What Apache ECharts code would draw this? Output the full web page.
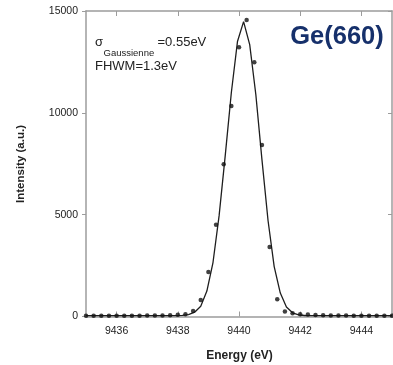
<!DOCTYPE html>
<html>
<head>
<meta charset="utf-8">
<script src="https://cdn.jsdelivr.net/npm/echarts@6/dist/echarts.min.js"></script>
<style>
  html, body { margin: 0; padding: 0; background: #ffffff; }
  #chart { width: 393px; height: 365px; }
</style>
</head>
<body>
<div id="chart"></div>
<script>
// Measured spectrum (points) around the Ge(660) reflection
const measuredEnergy = [
  9435.00, 9435.25, 9435.50, 9435.75, 9436.00, 9436.25, 9436.50, 9436.75,
  9437.00, 9437.25, 9437.50, 9437.75, 9438.00, 9438.25, 9438.50, 9438.75,
  9439.00, 9439.25, 9439.50, 9439.75, 9440.00, 9440.25, 9440.50, 9440.75,
  9441.00, 9441.25, 9441.50, 9441.75, 9442.00, 9442.25, 9442.50, 9442.75,
  9443.00, 9443.25, 9443.50, 9443.75, 9444.00, 9444.25, 9444.50, 9444.75,
  9445.00
];
const measuredIntensity = [
  40, 40, 40, 40, 40, 40, 40, 40,
  45, 50, 55, 65, 80, 110, 270, 810,
  2190, 4500, 7470, 10340, 13220, 14560, 12480, 8420,
  3410, 850, 250, 155, 105, 100, 75, 60,
  50, 50, 45, 40, 40, 40, 40, 40,
  40
];

// Gaussian fit curve (solid line)
const fitEnergy = [
  9435.00, 9437.95, 9438.15, 9438.35, 9438.55, 9438.75, 9438.95, 9439.15,
  9439.35, 9439.55, 9439.75, 9439.95, 9440.15, 9440.35, 9440.55, 9440.75,
  9440.95, 9441.15, 9441.35, 9441.55, 9441.75, 9441.95, 9442.15, 9442.35,
  9445.00
];
const fitIntensity = [
  40, 44, 55, 90, 210, 500, 1250, 2650,
  4950, 7900, 11000, 13500, 14480, 13350, 10900, 7700,
  4700, 2450, 1150, 470, 180, 80, 50, 42,
  40
];

// Axis ticks
const energyTicks = [9436, 9438, 9440, 9442, 9444];
const intensityMin = 0;
const intensityMax = 15000;
const intensityStep = 5000;
const energyMin = 9435;
const energyMax = 9445;

const frameColor = '#9c9c9c';
const textColor = '#222222';
const fontFamily = '"Liberation Sans", Arial, sans-serif';

const chart = echarts.init(document.getElementById('chart'), null, { renderer: 'canvas' });

const toPairs = (xs, ys) => xs.map((x, i) => [x, ys[i]]);
const plainNumber = v => String(v);

const frameLine = { show: true, onZero: false, lineStyle: { color: frameColor, width: 1.5 } };

chart.setOption({
  animation: false,
  backgroundColor: '#ffffff',
  grid: {
    left: 86, top: 11, width: 306, height: 305.5,
    containLabel: false,
    outerBoundsMode: 'none'
  },
  xAxis: [
    {
      type: 'value', position: 'bottom', min: energyMin, max: energyMax,
      axisLine: frameLine,
      axisTick: { show: true, inside: true, length: 5, customValues: energyTicks,
                  lineStyle: { color: frameColor, width: 1 } },
      axisLabel: { show: true, customValues: energyTicks, margin: 9, formatter: plainNumber,
                   color: textColor, fontSize: 10.5, fontFamily: fontFamily },
      splitLine: { show: false }
    },
    {
      type: 'value', position: 'top', min: energyMin, max: energyMax,
      axisLine: frameLine,
      axisTick: { show: true, inside: true, length: 5, customValues: energyTicks,
                  lineStyle: { color: frameColor, width: 1 } },
      axisLabel: { show: false },
      splitLine: { show: false }
    }
  ],
  yAxis: [
    {
      type: 'value', position: 'left', min: intensityMin, max: intensityMax, interval: intensityStep,
      axisLine: frameLine,
      axisTick: { show: true, inside: false, length: 4, lineStyle: { color: frameColor, width: 1 } },
      axisLabel: { show: true, margin: 8, formatter: plainNumber,
                   color: textColor, fontSize: 10.5, fontFamily: fontFamily },
      splitLine: { show: false }
    },
    {
      type: 'value', position: 'right', min: intensityMin, max: intensityMax, interval: intensityStep,
      axisLine: frameLine,
      axisTick: { show: true, inside: true, length: 4, lineStyle: { color: frameColor, width: 1 } },
      axisLabel: { show: false },
      splitLine: { show: false }
    }
  ],
  series: [
    {
      name: 'Fit', type: 'line', xAxisIndex: 0, yAxisIndex: 0,
      data: toPairs(fitEnergy, fitIntensity),
      showSymbol: false, smooth: false,
      lineStyle: { color: '#1e1e1e', width: 1.3 },
      z: 2
    },
    {
      name: 'Mesure', type: 'scatter', xAxisIndex: 0, yAxisIndex: 0,
      data: toPairs(measuredEnergy, measuredIntensity),
      symbol: 'circle', symbolSize: 4.5,
      itemStyle: { color: '#111111' },
      z: 3
    }
  ],
  graphic: [
    { type: 'text', x: 95, y: 42, style: { text: 'σ', font: '13px ' + fontFamily, fill: textColor, verticalAlign: 'middle' } },
    { type: 'text', x: 103.5, y: 53, style: { text: 'Gaussienne', font: '9.5px ' + fontFamily, fill: textColor, verticalAlign: 'middle' } },
    { type: 'text', x: 157.5, y: 42.8, style: { text: '=0.55eV', font: '13px ' + fontFamily, fill: textColor, verticalAlign: 'middle' } },
    { type: 'text', x: 95, y: 66, style: { text: 'FHWM=1.3eV', font: '13px ' + fontFamily, fill: textColor, verticalAlign: 'middle' } },
    { type: 'text', x: 337, y: 37, style: { text: 'Ge(660)', font: 'bold 25.5px ' + fontFamily, fill: '#16306b', align: 'center', verticalAlign: 'middle' } },
    { type: 'text', x: 239.5, y: 356, style: { text: 'Energy (eV)', font: 'bold 12px ' + fontFamily, fill: textColor, align: 'center', verticalAlign: 'middle' } },
    { type: 'text', x: 21, y: 164, rotation: Math.PI / 2, style: { text: 'Intensity (a.u.)', font: 'bold 11.5px ' + fontFamily, fill: textColor, align: 'center', verticalAlign: 'middle' } }
  ]
});
</script>
</body>
</html>
